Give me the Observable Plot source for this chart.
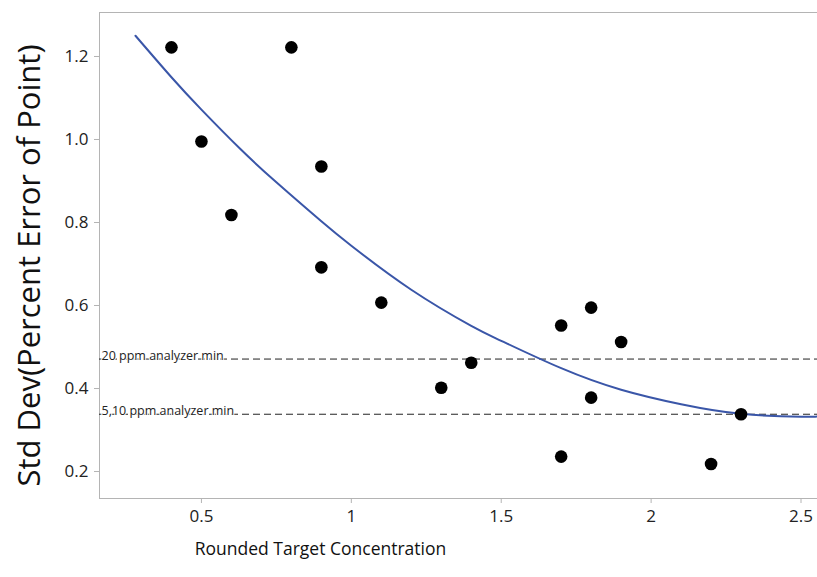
<!DOCTYPE html>
<html>
<head>
<meta charset="utf-8">
<script src="https://cdn.jsdelivr.net/npm/d3@7"></script>
<script src="https://cdn.jsdelivr.net/npm/@observablehq/plot@0.6"></script>
<style>
  html, body { margin: 0; padding: 0; background: #fff; }
  #chart { width: 817px; height: 577px; }
</style>
</head>
<body>
<div id="chart"></div>
<script>
// Observed points
const concentration = [0.4, 0.5, 0.6, 0.8, 0.9, 0.9, 1.1, 1.3, 1.4, 1.7, 1.7, 1.8, 1.8, 1.9, 2.2, 2.3];
const stdDev = [1.222, 0.995, 0.818, 1.222, 0.935, 0.692, 0.607, 0.402, 0.462, 0.552, 0.236, 0.595, 0.378, 0.512, 0.218, 0.338];

// Fitted curve
const fitX = [0.28, 0.4, 0.5, 0.63, 0.75, 0.9, 1.0, 1.2, 1.4, 1.5, 1.7, 1.9, 2.1, 2.3, 2.5, 2.555];
const fitY = [1.250, 1.150, 1.072, 0.977, 0.897, 0.803, 0.744, 0.638, 0.551, 0.515, 0.449, 0.397, 0.362, 0.339, 0.332, 0.333];

// Reference lines
const refLabels = ["20 ppm analyzer min", "5,10 ppm analyzer min"];
const refValues = [0.471, 0.338];

// Axis ticks
const xTicks = [0.5, 1, 1.5, 2, 2.5];
const yTicks = [0.2, 0.4, 0.6, 0.8, 1.0, 1.2];

const points = concentration.map((x, i) => ({x, y: stdDev[i]}));
const fit = fitX.map((x, i) => ({x, y: fitY[i]}));
const refs = refLabels.map((label, i) => ({label, y: refValues[i]}));

const font = "'Open Sans', 'Noto Sans', sans-serif";

const chart = Plot.plot({
  width: 817,
  height: 577,
  marginLeft: 99,
  marginRight: 0,
  marginTop: 12,
  marginBottom: 79,
  style: {fontFamily: font, fontSize: "17px", color: "#222", background: "#fff"},
  x: {domain: [0.16, 2.555], ticks: xTicks, tickFormat: d => String(d), label: null},
  y: {domain: [0.135, 1.306], ticks: yTicks, tickFormat: d3.format(".1f"), label: null},
  marks: [
    Plot.frame({stroke: "#b4b4b4", strokeWidth: 1}),
    Plot.axisX({ticks: xTicks, tickFormat: d => String(d), tickSize: 5, tickPadding: 6, stroke: "#b4b4b4", fontSize: 17, label: null}),
    Plot.axisY({ticks: yTicks, tickFormat: d3.format(".1f"), tickSize: 5, tickPadding: 6, stroke: "#b4b4b4", fontSize: 17, label: null}),
    Plot.ruleY(refs, {y: "y", stroke: "#222", strokeWidth: 1, strokeDasharray: "7,4"}),
    Plot.text(refs, {x: () => 0.16, y: "y", text: "label", textAnchor: "start", lineAnchor: "bottom", dx: 2, dy: 1, fontSize: 12.5, fill: "#222", stroke: "white", strokeWidth: 2}),
    Plot.line(fit, {x: "x", y: "y", stroke: "#3a56a8", strokeWidth: 2, curve: "natural", clip: true}),
    Plot.dot(points, {x: "x", y: "y", r: 6.3, fill: "black", stroke: "none"}),
    Plot.text(["Rounded Target Concentration"], {frameAnchor: "bottom", dx: -138, dy: 51, fontSize: 17.5, fill: "#111", lineAnchor: "middle"}),
    Plot.text(["Std Dev(Percent Error of Point)"], {frameAnchor: "left", textAnchor: "middle", dx: -69, dy: 10, rotate: -90, fontSize: 31, fill: "#111", lineAnchor: "middle"})
  ]
});
document.getElementById("chart").appendChild(chart);
</script>
</body>
</html>
